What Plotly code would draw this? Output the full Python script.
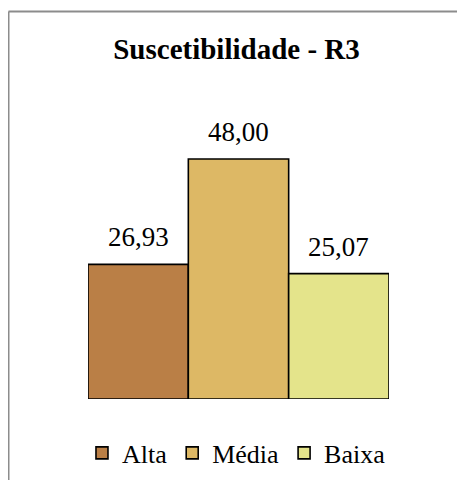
import plotly.graph_objects as go

categories = ["Alta", "Média", "Baixa"]
values = [26.93, 48.00, 25.07]
labels = ["26,93", "48,00", "25,07"]
colors = ["#BA7F46", "#DDB865", "#E4E48B"]

FONT = "Liberation Serif"

W, H = 457, 472
L, R, T, B = 80, 76, 91, 81
PW, PH = W - L - R, H - T - B

fig = go.Figure()
for cat, val, col in zip(categories, values, colors):
    fig.add_trace(go.Bar(
        x=[cat], y=[val], name=cat, width=1,
        marker=dict(color=col, line=dict(color="black", width=1.6)),
        hoverinfo="skip",
    ))

for cat, val, lab in zip(categories, values, labels):
    fig.add_annotation(x=cat, y=val, text=lab, showarrow=False,
                       yanchor="bottom", yshift=10,
                       font=dict(family=FONT, size=27, color="black"))

fig.update_layout(
    width=W, height=H,
    font=dict(family=FONT),
    margin=dict(l=L, r=R, t=T, b=B, autoexpand=False),
    paper_bgcolor="white", plot_bgcolor="white",
    barmode="overlay",
    title=dict(text="<b>Suscetibilidade - R3</b>", x=0.5, xanchor="center",
               y=1 - 41 / H, yanchor="middle",
               font=dict(family=FONT, size=29, color="black")),
    xaxis=dict(range=[-0.5, 2.5], showticklabels=False, showgrid=False,
               zeroline=False, showline=False, ticks=""),
    yaxis=dict(range=[0, 60], showticklabels=False, showgrid=False,
               zeroline=False, showline=False, ticks=""),
    showlegend=True,
    legend=dict(orientation="h", x=-0.02, xanchor="left",
                y=(PH - (445 - T)) / PH, yanchor="middle",
                font=dict(family=FONT, size=26, color="black"),
                itemwidth=30, tracegroupgap=0),
)

# chart border (top and left edges)
ytop = (PH - (3.5 - T)) / PH
fig.add_shape(type="line", xref="paper", yref="paper",
              x0=(0.5 - L) / PW, x1=(W + 5 - L) / PW, y0=ytop, y1=ytop,
              line=dict(color="#8C8C8C", width=2))
fig.add_shape(type="line", xref="paper", yref="paper",
              x0=(0.5 - L) / PW, x1=(0.5 - L) / PW,
              y0=ytop, y1=(PH - (H + 5 - T)) / PH,
              line=dict(color="#8C8C8C", width=2))

fig.write_html("out.html")
